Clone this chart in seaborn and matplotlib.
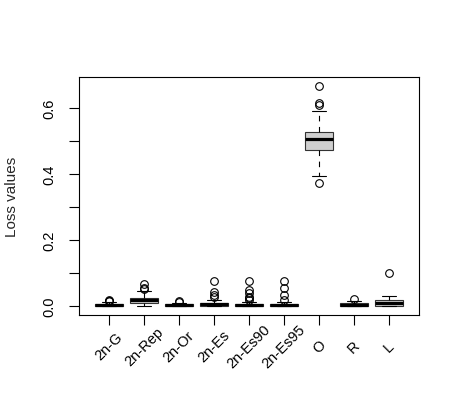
import numpy as np
import pandas as pd
import matplotlib
matplotlib.use("Agg")
import matplotlib.pyplot as plt
import seaborn as sns

categories = ["2n-G", "2n-Rep", "2n-Or", "2n-Es", "2n-Es90", "2n-Es95", "O", "R", "L"]

loss_2n_G = [0.000, 0.0005, 0.001, 0.0015, 0.002, 0.0025, 0.003, 0.0035, 0.004,
             0.0045, 0.005, 0.006, 0.007, 0.012, 0.015, 0.017, 0.019]
loss_2n_Rep = [0.001, 0.004, 0.007, 0.009, 0.010, 0.013, 0.015, 0.017, 0.019,
               0.021, 0.023, 0.025, 0.026, 0.047, 0.053, 0.056, 0.068]
loss_2n_Or = [0.000, 0.0003, 0.0006, 0.0008, 0.001, 0.0015, 0.002, 0.0025, 0.003,
              0.0035, 0.004, 0.005, 0.006, 0.007, 0.010, 0.014, 0.016]
loss_2n_Es = [0.000, 0.0005, 0.001, 0.0015, 0.0018, 0.002, 0.003, 0.004, 0.0045, 0.005,
              0.006, 0.007, 0.008, 0.009, 0.0095, 0.010, 0.020, 0.029, 0.035, 0.044, 0.076]
loss_2n_Es90 = [0.000, 0.0002, 0.0004, 0.0006, 0.0007, 0.0008, 0.0009, 0.001,
                0.0013, 0.0016, 0.002, 0.0023, 0.0026, 0.0028, 0.003,
                0.0033, 0.0036, 0.004, 0.0045, 0.005, 0.0055, 0.006,
                0.013, 0.019, 0.025, 0.029, 0.039, 0.050, 0.076]
loss_2n_Es95 = [0.000, 0.0002, 0.0004, 0.0006, 0.0008, 0.001, 0.0015, 0.002, 0.0023, 0.0026,
                0.003, 0.0035, 0.004, 0.0045, 0.005, 0.006, 0.012, 0.020, 0.035, 0.056, 0.076]
loss_O = [0.372, 0.392, 0.430, 0.455, 0.471, 0.482, 0.492, 0.500, 0.506,
          0.511, 0.516, 0.521, 0.525, 0.591, 0.609, 0.614, 0.666]
loss_R = [0.000, 0.0005, 0.001, 0.0015, 0.002, 0.003, 0.004, 0.0045, 0.005,
          0.006, 0.007, 0.008, 0.009, 0.011, 0.014, 0.017, 0.021]
loss_L = [0.000, 0.0005, 0.001, 0.0015, 0.002, 0.004, 0.006, 0.008, 0.009,
          0.011, 0.014, 0.017, 0.019, 0.024, 0.028, 0.032, 0.099]

ytick_values = [0.0, 0.1, 0.2, 0.3, 0.4, 0.5, 0.6]
ytick_labels = ["0.0", "", "0.2", "", "0.4", "", "0.6"]

series = [loss_2n_G, loss_2n_Rep, loss_2n_Or, loss_2n_Es, loss_2n_Es90,
          loss_2n_Es95, loss_O, loss_R, loss_L]
df = pd.DataFrame({
    "method": [c for c, s in zip(categories, series) for _ in s],
    "loss": [v for s in series for v in s],
})

sns.set_theme(style="white")
plt.rcParams["font.family"] = ["Liberation Sans", "DejaVu Sans"]

fig = plt.figure(figsize=(4.6, 4.14), dpi=100)
ax = fig.add_axes([79 / 460, 1 - 316 / 414, 340 / 460, 238 / 414])

sns.boxplot(
    data=df, x="method", y="loss", order=categories, ax=ax,
    color="#CFCFCF", saturation=1, width=0.8, linecolor="black", linewidth=0.8,
    whis=1.5,
    flierprops=dict(marker="o", markerfacecolor="none", markeredgecolor="black",
                    markersize=5.5, markeredgewidth=0.8),
    medianprops=dict(color="black", linewidth=2.3),
    whiskerprops=dict(color="black", linestyle=(0, (5, 5)), linewidth=0.8),
    capprops=dict(color="black", linewidth=0.8),
    boxprops=dict(edgecolor="#333333", linewidth=0.8),
)

ax.set_xlim(-0.5 - 0.36, 8.5 + 0.36)
ax.set_ylim(-0.0266, 0.6927)
ax.set_yticks(ytick_values)
ax.set_yticklabels(ytick_labels, rotation=90, va="center", ha="right")
ax.set_xlabel("")
ax.set_ylabel("Loss values", fontsize=11, va="center")
ax.yaxis.set_label_coords((11.5 - 79) / 340, 0.5)

for sp in ax.spines.values():
    sp.set_visible(True)
    sp.set_color("black")
    sp.set_linewidth(0.8)

ax.tick_params(axis="both", which="major", direction="out", length=7.2, width=0.8,
               color="black", labelsize=10.5, bottom=True, left=True, labelcolor="black")
ax.tick_params(axis="y", pad=9.4)
ax.tick_params(axis="x", pad=15.1)
for lab in ax.get_xticklabels():
    lab.set_rotation(45)
    lab.set_rotation_mode("anchor")
    lab.set_ha("center")
    lab.set_va("center")

fig.savefig("out.png", dpi=100)
